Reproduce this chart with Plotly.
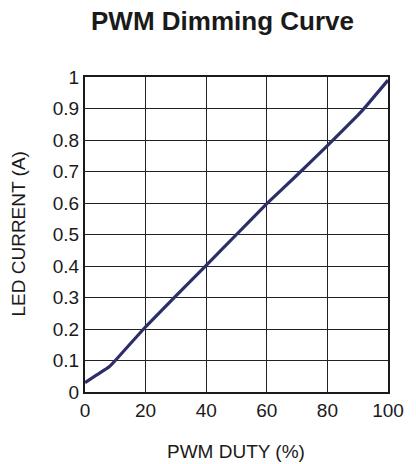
import plotly.graph_objects as go

duty = [0, 4, 8, 10, 20, 30, 40, 50, 60, 70, 80, 90, 93, 100]
current = [0.03, 0.055, 0.08, 0.10, 0.207, 0.305, 0.402, 0.50, 0.598, 0.689, 0.782, 0.878, 0.91, 0.99]

x_ticks = [0, 20, 40, 60, 80, 100]
y_ticks = [0, 0.1, 0.2, 0.3, 0.4, 0.5, 0.6, 0.7, 0.8, 0.9, 1]
y_labels = ["0", "0.1", "0.2", "0.3", "0.4", "0.5", "0.6", "0.7", "0.8", "0.9", "1"]

fig = go.Figure()
fig.add_trace(go.Scatter(x=duty, y=current, mode="lines",
                         line=dict(color="#2e2d6b", width=3.2, shape="spline", smoothing=0.3),
                         hoverinfo="skip", showlegend=False))

font = "Liberation Sans, Arial, sans-serif"
fig.update_layout(
    width=416, height=464,
    margin=dict(l=85, r=17, t=77, b=72),
    paper_bgcolor="white", plot_bgcolor="white",
    font=dict(family=font, color="#1a1a1a", size=18),
    title=dict(text="<b>PWM Dimming Curve</b>", x=222.5/416, xanchor="center",
               y=1 - 21/464, yanchor="middle", font=dict(size=26, family=font, color="#1a1a1a")),
    annotations=[
        dict(text="PWM DUTY (%)", xref="paper", yref="paper", x=(241.5-85)/314, y=0,
             xanchor="center", yanchor="middle", yshift=-59, showarrow=False,
             font=dict(size=19, family=font, color="#1a1a1a")),
        dict(text="LED CURRENT (A)", xref="paper", yref="paper", x=0, y=0.5,
             xanchor="center", yanchor="middle", xshift=-67, textangle=-90, showarrow=False,
             font=dict(size=19, family=font, color="#1a1a1a")),
    ],
)
fig.update_xaxes(range=[0, 100], tickvals=x_ticks, ticktext=[str(v) for v in x_ticks],
                 showgrid=True, gridcolor="#222222", gridwidth=1,
                 showline=True, linecolor="#1a1a1a", linewidth=2, mirror=True,
                 ticks="", zeroline=False, tickfont=dict(size=19))
fig.update_yaxes(range=[0, 1], tickvals=y_ticks, ticktext=y_labels,
                 showgrid=True, gridcolor="#222222", gridwidth=1,
                 showline=True, linecolor="#1a1a1a", linewidth=2, mirror=True,
                 ticks="", zeroline=False, tickfont=dict(size=19))

fig.write_html("out.html", config={"displayModeBar": False},
               post_script="document.body.style.margin='0';")
